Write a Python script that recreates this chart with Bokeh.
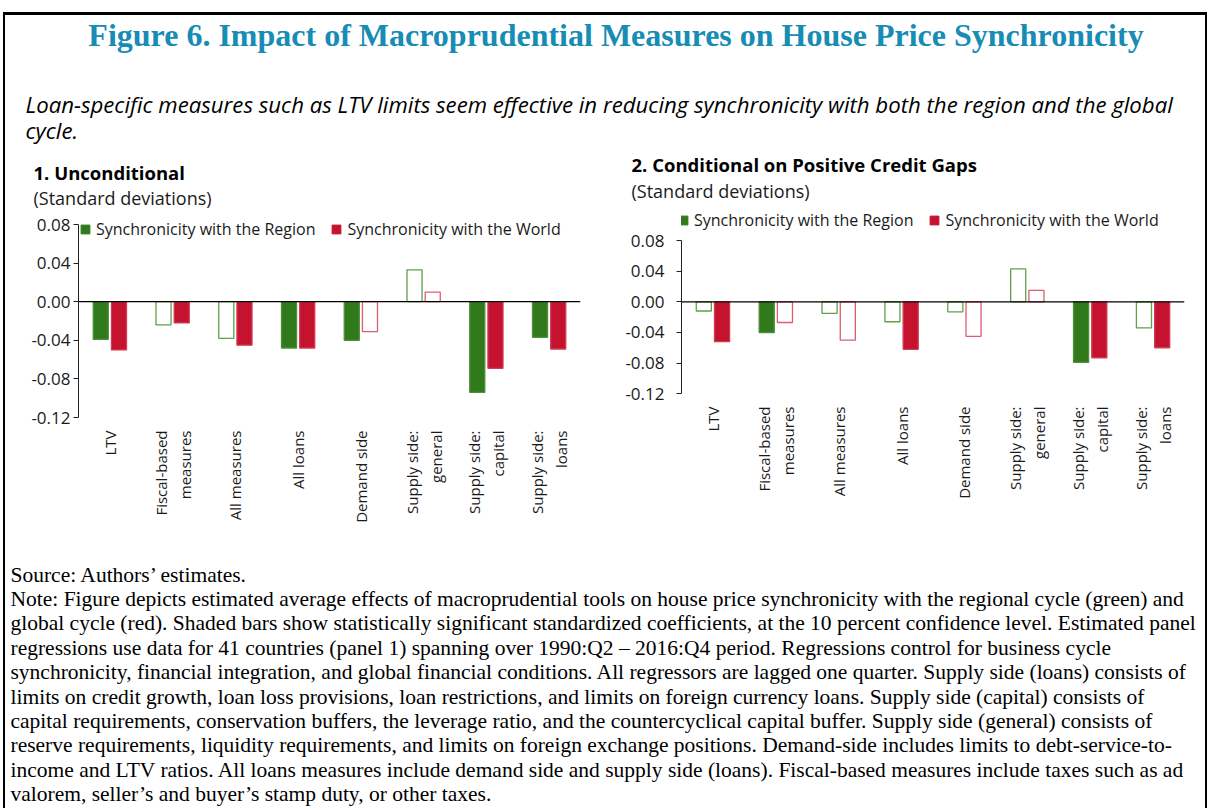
import math
from bokeh.plotting import figure
from bokeh.layouts import column, row
from bokeh.models import (Range1d, FactorRange, FixedTicker, NumeralTickFormatter, Span,
                          Legend, LegendItem, ColumnDataSource, Spacer)
from bokeh.transform import dodge
from bokeh.core.properties import value
from bokeh.embed import file_html
from bokeh.resources import INLINE

# ---------------- data ----------------
categories = ["LTV", "Fiscal-based\nmeasures", "All measures", "All loans", "Demand side",
              "Supply side:\ngeneral", "Supply side:\ncapital", "Supply side:\nloans"]

p1_region = [-0.039, -0.024, -0.038, -0.048, -0.040, 0.033, -0.094, -0.037]
p1_world = [-0.050, -0.022, -0.045, -0.048, -0.031, 0.010, -0.069, -0.049]
p1_region_sig = [1, 0, 0, 1, 1, 0, 1, 1]
p1_world_sig = [1, 1, 1, 1, 0, 0, 1, 1]

p2_region = [-0.012, -0.040, -0.015, -0.026, -0.013, 0.043, -0.079, -0.034]
p2_world = [-0.052, -0.027, -0.050, -0.062, -0.045, 0.015, -0.073, -0.060]
p2_region_sig = [0, 1, 0, 0, 0, 0, 1, 0]
p2_world_sig = [1, 0, 0, 1, 0, 0, 1, 1]

y_ticks = [-0.12, -0.08, -0.04, 0.0, 0.04, 0.08]

series_names = ["Synchronicity with the Region", "Synchronicity with the World"]

fig_title = "Figure 6. Impact of Macroprudential Measures on House Price Synchronicity"
subtitle = ["Loan-specific measures such as LTV limits seem effective in reducing synchronicity with both the region and the global",
            "cycle."]
panel_titles = ["1. Unconditional", "2. Conditional on Positive Credit Gaps"]
unit_label = "(Standard deviations)"

notes = [
    "Source: Authors\u2019 estimates.",
    "Note: Figure depicts estimated average effects of macroprudential tools on house price synchronicity with the regional cycle (green) and",
    "global cycle (red). Shaded bars show statistically significant standardized coefficients, at the 10 percent confidence level. Estimated panel",
    "regressions use data for 41 countries (panel 1) spanning over 1990:Q2 \u2013 2016:Q4 period. Regressions control for business cycle",
    "synchronicity, financial integration, and global financial conditions. All regressors are lagged one quarter. Supply side (loans) consists of",
    "limits on credit growth, loan loss provisions, loan restrictions, and limits on foreign currency loans. Supply side (capital) consists of",
    "capital requirements, conservation buffers, the leverage ratio, and the countercyclical capital buffer. Supply side (general) consists of",
    "reserve requirements, liquidity requirements, and limits on foreign exchange positions. Demand-side includes limits to debt-service-to-",
    "income and LTV ratios. All loans measures include demand side and supply side (loans). Fiscal-based measures include taxes such as ad",
    "valorem, seller\u2019s and buyer\u2019s stamp duty, or other taxes.",
]

# ---------------- styles / geometry ----------------
GREEN = "#317A1C"
GREEN_EDGE = "#4E8F3B"
GREEN_HOLLOW = "#5FA048"
RED = "#C4122F"
RED_EDGE = "#D33A52"
RED_HOLLOW = "#DE5C71"
TEAL = "#178CB4"
SANS = "Open Sans"
SERIF = "Liberation Serif"
TXT = "#1a1a1a"

OX = 5                     # page x of content left edge
OY = 15                    # page y of content top edge (below the 3px top rule at y=12)
W = 1200
FRAME_TOP = 209            # page y where the panel row starts (= frame top)
FRAME_BOTTOM = 417         # page y of common frame bottom
ROW_END = 545
TOP_H = FRAME_TOP - OY
ROW_H = ROW_END - FRAME_TOP
BOT_H = 263
BB = ROW_END - FRAME_BOTTOM


def y_range_for(y_top_tick_px, y_bot_tick_px):
    # page-pixel positions of the 0.08 and -0.12 ticks -> data range of the full frame
    ppu = (y_bot_tick_px - y_top_tick_px) / (y_ticks[-1] - y_ticks[0])
    end = y_ticks[-1] + (y_top_tick_px - FRAME_TOP) / ppu
    start = y_ticks[0] - (FRAME_BOTTOM - y_bot_tick_px) / ppu
    return Range1d(start, end)


def make_panel(width, bl, br, yr, region, world, rsig, wsig, legend_loc, ystand, xstand):
    p = figure(width=width, height=ROW_H, x_range=FactorRange(factors=categories),
               y_range=yr, output_backend="svg", toolbar_location=None,
               min_border_left=bl, min_border_right=br, min_border_top=0, min_border_bottom=BB)
    p.outline_line_color = None
    p.xgrid.visible = False
    p.ygrid.visible = False

    src = ColumnDataSource(dict(
        cat=categories, region=region, world=world,
        rfill=[GREEN if s else "white" for s in rsig],
        rline=[GREEN_EDGE if s else GREEN_HOLLOW for s in rsig],
        wfill=[RED if s else "white" for s in wsig],
        wline=[RED_EDGE if s else RED_HOLLOW for s in wsig],
    ))
    p.vbar(x=dodge("cat", -0.145, range=p.x_range), top="region", bottom=0, width=0.24,
           source=src, fill_color="rfill", line_color="rline", line_width=1.3)
    p.vbar(x=dodge("cat", 0.145, range=p.x_range), top="world", bottom=0, width=0.24,
           source=src, fill_color="wfill", line_color="wline", line_width=1.3)

    # legend keys (square swatches; no visible data point)
    kr = p.scatter(x=[categories[0]], y=[float("nan")], marker="square",
                   fill_color=GREEN, line_color=GREEN)
    kw = p.scatter(x=[categories[0]], y=[float("nan")], marker="square",
                   fill_color=RED, line_color=RED)

    p.add_layout(Span(location=0, dimension="width", line_color="black", line_width=1.3))

    ya = p.yaxis[0]
    ya.ticker = FixedTicker(ticks=y_ticks)
    ya.formatter = NumeralTickFormatter(format="0.00")
    ya.bounds = (y_ticks[0], y_ticks[-1])
    ya.major_tick_in = 0
    ya.major_tick_out = 5
    ya.minor_tick_line_color = None
    ya.axis_line_color = "#222222"
    ya.major_tick_line_color = "#222222"
    ya.major_label_standoff = ystand
    ya.major_label_text_font = SANS
    ya.major_label_text_font_size = "17px"
    ya.major_label_text_color = TXT

    xa = p.xaxis[0]
    xa.axis_line_color = None
    xa.major_tick_line_color = None
    xa.minor_tick_line_color = None
    xa.major_label_orientation = math.pi / 2
    xa.major_label_standoff = xstand
    xa.major_label_text_font = SANS
    xa.major_label_text_font_size = "15px"
    xa.major_label_text_color = TXT

    legend = Legend(items=[LegendItem(label=series_names[0], renderers=[kr], index=0),
                           LegendItem(label=series_names[1], renderers=[kw], index=0)],
                    orientation="horizontal", location=legend_loc, padding=0, margin=0,
                    spacing=10, glyph_width=22, glyph_height=22, label_standoff=-1,
                    label_text_font=SANS, label_text_font_size="16px", label_text_color=TXT,
                    border_line_alpha=0, background_fill_alpha=0)
    p.add_layout(legend, "center")
    return p


# panel 1: 0.08 tick at page y 224, -0.12 at 417; frame left at page x 78
p1 = make_panel(595, 73, 20, y_range_for(224, 417), p1_region, p1_world,
                p1_region_sig, p1_world_sig, (-4, FRAME_BOTTOM - 239.5), 3, 7)
# panel 2: 0.08 tick at page y 240, -0.12 at 393; frame left at page x 681
p2 = make_panel(605, 81, 21, y_range_for(240, 393.3), p2_region, p2_world,
                p2_region_sig, p2_world_sig, (-9, FRAME_BOTTOM - 231), 12, -17)

# ---------------- top text block (titles) ----------------
top = figure(width=W, height=TOP_H, x_range=Range1d(0, W), y_range=Range1d(TOP_H, 0),
             output_backend="svg", toolbar_location=None, min_border=0,
             x_axis_type=None, y_axis_type=None)
top.outline_line_color = None
top.text(x=[615.5 - OX], y=[34 - OY], text=[fig_title], text_align="center", text_baseline="middle",
         text_font=value(SERIF), text_font_style="bold", text_font_size="32px", text_color=TEAL)
top.text(x=[25 - OX, 25 - OX], y=[104 - OY, 130 - OY], text=subtitle, text_align="left",
         text_baseline="middle", text_font=value(SANS), text_font_style="italic",
         text_font_size="22.2px", text_color="black")
top.text(x=[33 - OX, 631 - OX], y=[172 - OY, 164 - OY], text=panel_titles, text_align="left",
         text_baseline="middle", text_font=value(SANS), text_font_style="bold",
         text_font_size="18.5px", text_color="black")
top.text(x=[33 - OX, 631 - OX], y=[197.5 - OY, 190.5 - OY], text=[unit_label, unit_label],
         text_align="left", text_baseline="middle", text_font=value(SANS),
         text_font_size="18px", text_color=TXT)

# ---------------- bottom notes ----------------
bot = figure(width=W, height=BOT_H, x_range=Range1d(0, W), y_range=Range1d(BOT_H, 0),
             output_backend="svg", toolbar_location=None, min_border=0,
             x_axis_type=None, y_axis_type=None)
bot.outline_line_color = None
bot.text(x=[10 - OX] * len(notes), y=[574 - ROW_END + 24.4 * i for i in range(len(notes))],
         text=notes, text_align="left", text_baseline="middle", text_font=value(SERIF),
         text_font_size="21.5px", text_color="black")

inner = column(top, row(p1, p2), bot,
               styles={"border-left": "2px solid black", "border-right": "2px solid black",
                       "border-top": "3px solid black"})
layout = column(Spacer(width=10, height=12),
                row(Spacer(width=3, height=TOP_H + ROW_H + BOT_H + 3), inner))

open("out.html", "w").write(file_html(layout, INLINE))
